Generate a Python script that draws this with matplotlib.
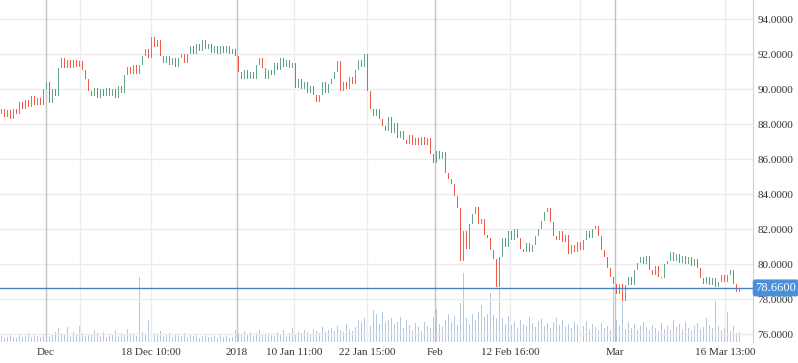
import numpy as np
import matplotlib.pyplot as plt
from matplotlib.transforms import blended_transform_factory

# candle closes (each candle opens at the previous close)
first_open = 88.6
closes = [
    88.9, 88.4, 88.8, 88.3, 88.9, 88.6, 89.3, 88.9, 89.4, 89.0,
    89.6, 89.1, 89.5, 89.1, 90.0, 90.4, 89.2, 90.0, 89.6, 91.2,
    91.8, 91.2, 91.7, 91.2, 91.7, 91.3, 91.6, 91.1, 90.6, 89.9,
    89.6, 90.1, 89.5, 90.0, 89.6, 90.1, 89.6, 90.0, 89.5, 90.2,
    89.8, 90.8, 91.3, 90.9, 91.4, 90.9, 91.4, 91.9, 92.3, 91.8,
    93.0, 92.4, 92.8, 91.9, 91.5, 91.9, 91.4, 91.8, 91.3, 91.8,
    92.0, 91.5, 92.0, 92.5, 92.0, 92.6, 92.2, 92.8, 92.3, 92.6,
    92.1, 92.5, 92.0, 92.5, 92.1, 92.5, 92.0, 92.3, 91.9, 91.0,
    90.6, 91.1, 90.6, 91.0, 90.6, 91.4, 91.8, 91.2, 90.6, 91.1,
    90.8, 91.5, 91.1, 91.8, 91.3, 91.7, 91.2, 91.5, 90.1, 90.6,
    90.0, 90.4, 89.8, 90.2, 89.7, 89.3, 89.7, 90.4, 89.8, 90.3,
    90.6, 91.0, 91.6, 89.9, 90.4, 90.0, 90.7, 90.3, 91.1, 91.7,
    91.3, 92.0, 89.9, 88.9, 88.5, 88.9, 88.3, 87.9, 87.6, 88.4,
    87.5, 88.1, 87.2, 87.6, 87.1, 86.9, 87.4, 86.8, 87.2, 86.8,
    87.3, 86.8, 87.2, 86.3, 85.8, 86.5, 86.0, 86.4, 85.2, 84.9,
    84.6, 83.9, 83.2, 80.2, 81.9, 80.9, 82.3, 82.9, 83.3, 82.3,
    82.6, 81.7, 81.5, 80.8, 80.3, 78.7, 80.4, 81.5, 81.0, 81.9,
    81.4, 82.0, 81.5, 80.9, 80.7, 81.2, 80.7, 81.1, 81.6, 82.0,
    82.5, 83.0, 83.2, 82.4, 81.6, 81.4, 81.9, 81.3, 81.7, 80.6,
    81.1, 80.7, 81.3, 80.8, 81.4, 81.9, 81.5, 82.0, 82.2, 81.6,
    80.8, 80.4, 79.8, 79.3, 78.9, 78.3, 78.9, 77.9, 78.8, 79.3,
    78.8, 79.7, 80.1, 80.4, 80.0, 80.5, 79.7, 79.4, 79.9, 79.3,
    79.2, 80.0, 80.2, 80.7, 80.2, 80.6, 80.1, 80.5, 80.0, 80.4,
    79.9, 80.3, 79.8, 79.2, 78.9, 79.3, 78.8, 79.2, 78.7, 79.0,
    79.4, 79.0, 79.4, 79.7, 78.9, 78.4, 78.66,
]
volumes = [
    6, 4, 5, 8, 5, 4, 7, 5, 6, 9,
    5, 7, 6, 5, 8, 12, 6, 7, 10, 14,
    9, 8, 15, 6, 10, 7, 16, 9, 6, 8,
    7, 12, 9, 6, 10, 5, 8, 7, 11, 6,
    9, 7, 13, 8, 9, 6, 64, 10, 7, 22,
    14, 9, 8, 11, 6, 7, 9, 5, 8, 7,
    6, 9, 5, 7, 6, 8, 4, 6, 7, 5,
    5, 6, 4, 7, 5, 6, 4, 5, 12, 9,
    8, 11, 7, 10, 6, 9, 12, 7, 8, 9,
    7, 6, 10, 8, 12, 6, 9, 14, 8, 10,
    9, 12, 10, 8, 13, 11, 9, 15, 10, 12,
    14, 11, 16, 12, 10, 18, 13, 11, 15, 22,
    20, 24, 43, 16, 32, 28, 18, 30, 20, 22,
    24, 18, 20, 25, 14, 22, 17, 12, 19, 15,
    11, 20, 16, 14, 25, 33, 18, 15, 22, 28,
    20, 26, 17, 38, 68, 24, 18, 28, 22, 30,
    36, 25, 28, 48, 27, 24, 52, 24, 18, 26,
    17, 20, 14, 22, 18, 16, 25, 19, 15, 21,
    23, 16, 19, 14, 20, 24, 17, 22, 15, 18,
    14, 20, 17, 11, 16, 21, 13, 18, 15, 12,
    19, 14, 16, 12, 55, 22, 17, 40, 13, 20,
    14, 18, 12, 16, 20, 15, 12, 17, 14, 11,
    19, 13, 16, 12, 22, 15, 18, 13, 20, 14,
    12, 16, 19, 13, 15, 24, 17, 14, 40, 16,
    12, 14, 30, 11, 16, 9, 10,
]
last_price = 78.66

tick_labels = ['Dec', '18 Dec 10:00', '2018', '10 Jan 11:00', '22 Jan 15:00',
               'Feb', '12 Feb 16:00', 'Mar', '16 Mar 13:00']
tick_pos = [14.8, 49.8, 78.5, 97.5, 121.8, 144.5, 169.5, 204.5, 241.2]
month_pos = [14.8, 78.5, 144.5, 204.5]
minor_pos = [26.2, 49.8, 97.5, 121.8, 169.5, 192.8, 241.2]
price_ticks = np.arange(76, 95, 2)

closes = np.array(closes)
opens = np.r_[first_open, closes[:-1]]
idx = np.arange(len(closes))
colors = np.where(closes >= opens, '#65a888', '#ee5a45')
bottoms = np.minimum(opens, closes)
heights = np.maximum(np.abs(closes - opens), 0.06)

plt.rcParams['font.family'] = ['Liberation Serif', 'DejaVu Serif']

fig = plt.figure(figsize=(7.98, 3.63), dpi=100, facecolor='white')
rect = [0, 21 / 363, 753 / 798, 342 / 363]

# volume in the back
axv = fig.add_axes(rect)
axv.bar(idx, volumes, width=0.6, color='#b4c8e0')
axv.set_xlim(-0.5, 250.5)
axv.set_ylim(0, max(volumes) * 342 / 69)
axv.axis('off')

ax = fig.add_axes(rect)
ax.patch.set_alpha(0)
for y in price_ticks:
    ax.axhline(y, color='#ececec', lw=1, zorder=0)
for p in minor_pos:
    ax.axvline(p, color='#ececec', lw=1, zorder=0)
for p in month_pos:
    ax.axvline(p, color='#c2c2c2', lw=1, zorder=0.5)

ax.bar(idx, heights, bottom=bottoms, width=0.5, color=colors, zorder=2)
ax.axhline(last_price, color='#4a7fc0', lw=1, zorder=3)

ax.set_xlim(-0.5, 250.5)
ax.set_ylim(75.57, 95.11)
ax.yaxis.tick_right()
ax.set_yticks(price_ticks)
ax.set_yticklabels([f'{v:.4f}' for v in price_ticks])
ax.set_xticks(tick_pos)
ax.set_xticklabels(tick_labels)
ax.tick_params(axis='both', length=0, labelsize=8, colors='#333333')
ax.tick_params(axis='y', pad=3)
ax.tick_params(axis='x', pad=4)
for s in ['top', 'left', 'bottom']:
    ax.spines[s].set_visible(False)
ax.spines['right'].set_color('#d0d0d0')

trans = blended_transform_factory(ax.transAxes, ax.transData)
ax.text(1.003, last_price, f'{last_price:.4f}', transform=trans, ha='left', va='center',
        color='white', fontsize=9, clip_on=False, zorder=5,
        bbox=dict(boxstyle='round,pad=0.2', fc='#4a90d9', ec='none'))

fig.savefig('out.png', dpi=100, facecolor='white')
